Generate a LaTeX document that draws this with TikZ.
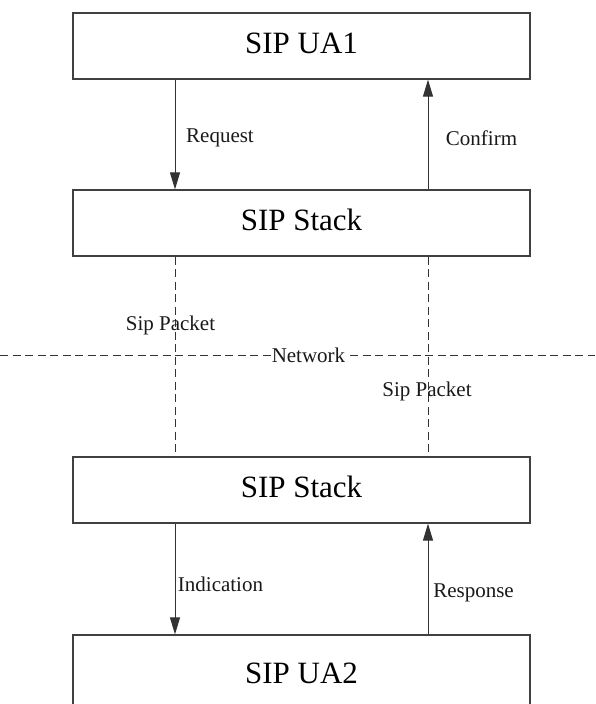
\documentclass[tikz,border=0pt]{standalone}
\usepackage{fontspec}
\setmainfont{Liberation Serif}
\usetikzlibrary{arrows.meta}
\begin{document}
\begin{tikzpicture}[x=1pt,y=1pt,
  box/.style={draw=black!75,line width=1.2pt,minimum width=457pt,minimum height=66pt,inner sep=0pt,
    font=\fontsize{31}{31}\selectfont,text height=21.7pt,text depth=6.8pt},
  lbl/.style={inner sep=0pt,font=\fontsize{21}{21}\selectfont,text=black!90},
  arr/.style={draw=black!80,line width=1pt,-{Triangle[length=17pt,width=10pt]}},
  dline/.style={draw=black!80,line width=1pt,dash pattern=on 8pt off 4.5pt}]
\path[use as bounding box] (0,0) rectangle (595,-704);
\clip (0,0) rectangle (595,-704);
\coordinate (xl) at (175,0);
\coordinate (xr) at (428,0);
\coordinate (nl) at (0,-355);
\coordinate (nr) at (595,-355);
\node[box] (ua1) at (301.5,-46) {SIP UA1};
\node[box] (st1) at (301.5,-223) {SIP Stack};
\node[box] (st2) at (301.5,-490) {SIP Stack};
\node[box,minimum height=82pt] (ua2) at (301.5,-676) {SIP UA2};
\draw[arr] (ua1.south -| xl) -- (st1.north -| xl);
\draw[arr] (st1.north -| xr) -- (ua1.south -| xr);
\draw[arr] (st2.south -| xl) -- (ua2.north -| xl);
\draw[arr] (ua2.north -| xr) -- (st2.south -| xr);
\draw[dline] (st1.south -| xl) -- (st2.north -| xl);
\draw[dline] (st1.south -| xr) -- (st2.north -| xr);
\draw[dline] (nl) -- (nr);
\node[lbl,fill=white,inner xsep=1pt,inner ysep=2pt] (net) at (308.5,-355) {Network};
\node[lbl] (req) at (220,-138) {Request};
\node[lbl] (conf) at (481.5,-138) {Confirm};
\node[lbl] (sp1) at (170.5,-325) {Sip Packet};
\node[lbl] (sp2) at (427,-391) {Sip Packet};
\node[lbl] (ind) at (220.5,-584) {Indication};
\node[lbl] (resp) at (473.5,-593) {Response};
\end{tikzpicture}
\end{document}
